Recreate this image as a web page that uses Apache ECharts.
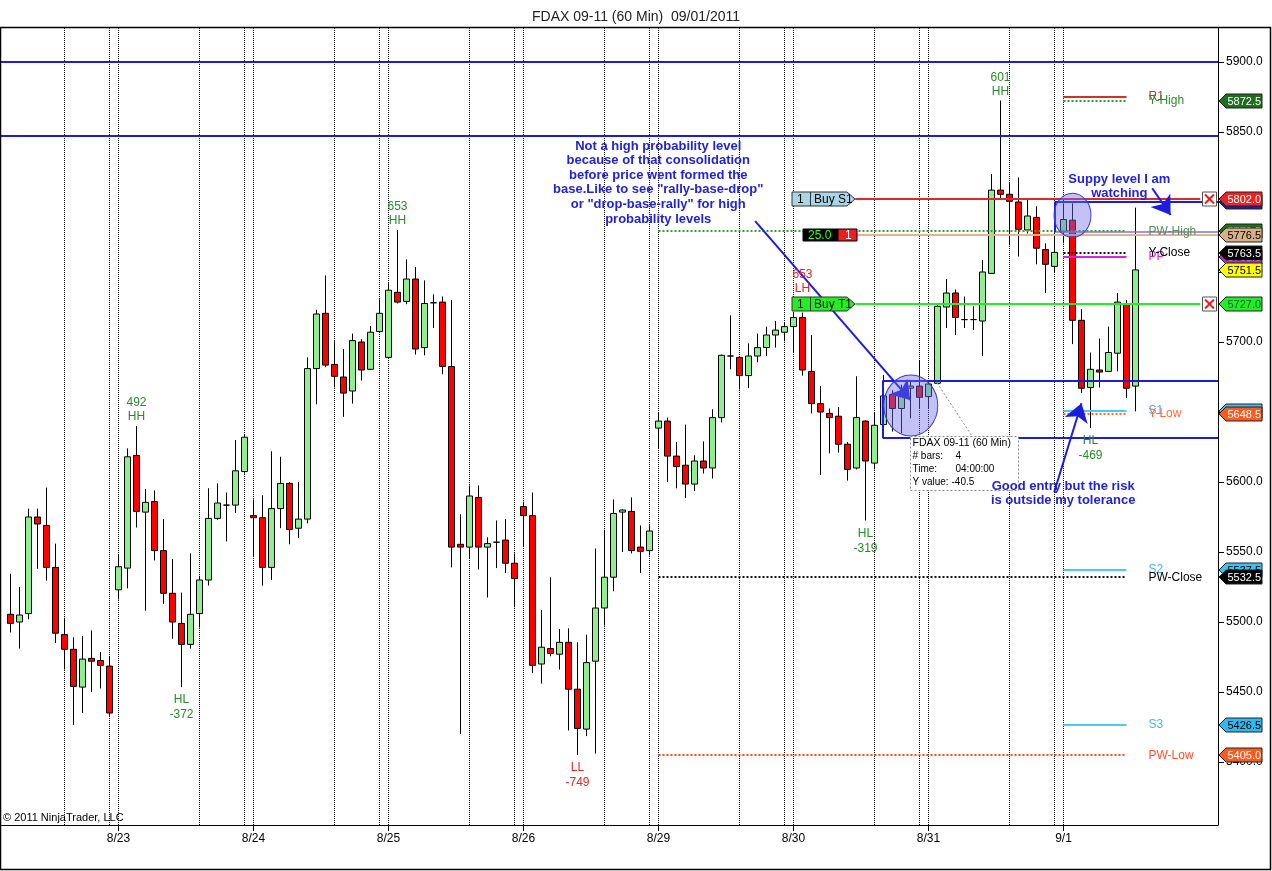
<!DOCTYPE html>
<html><head><meta charset="utf-8">
<script src="https://cdn.jsdelivr.net/npm/echarts@6/dist/echarts.min.js"></script>
<style>html,body{margin:0;padding:0;background:#fff}#c{width:1272px;height:871px}</style>
</head><body><div id="c"></div>
<script>
// ---------------- DATA ----------------
const chartTitle = 'FDAX 09-11 (60 Min)  09/01/2011';
const dayLabels = ['8/23','8/24','8/25','8/26','8/29','8/30','8/31','9/1'];
const dayStarts = [12,27,42,57,72,87,102,117];
const sessionLines = [6,11,12,21,26,27,36,41,42,51,56,57,66,71,72,81,86,87,96,101,102,111,116,117];
const yTicks = [5400,5450,5500,5550,5600,5650,5700,5750,5800,5850,5900];

const opens = [
5505.5,5500,5506,5575,5569,5539,5491,5480.5,5453.5,5474,
5472.5,5468.5,5523,5538.5,5619,5578.5,5586,5551,5520.5,5499,
5484,5506,5530,5574,5583.5,5583.5,5607.5,5576,5574.5,5539,
5581,5599,5567,5573.5,5681,5720.5,5684,5675,5665,5700,
5680.5,5707.5,5689,5735.5,5729,5745,5696,5728,5728.5,5682.5,
5555.5,5553.5,5589,5553.5,5557,5558.5,5542,5582.5,5576,5470,
5481,5477,5485.5,5452,5423.5,5472,5510,5532,5578.5,5579,
5553.5,5551,5638.5,5643.5,5618.5,5612,5598.5,5615,5610,5646,
5690,5689,5676,5690,5696,5705,5707,5711,5717.5,5679,
5656,5649,5647,5627,5610,5643.5,5613.5,5641,5662.5,5652.5,
5667,5668.5,5661,5670.5,5725,5735,5716,5716,5715,5749,
5808.5,5805.5,5800,5780,5789,5766,5754,5779,5787,5715.5,
5667.5,5680,5679,5692,5727.5,5668.5];
const closes = [
5499,5505,5575,5570,5539,5492,5480.5,5454,5473.5,5472,
5469,5435,5539.5,5618,5579,5585.5,5551,5520.5,5500,5484,
5505.5,5530,5574,5585,5583.5,5608,5632,5574.5,5539,5581,
5599,5566,5573.5,5681,5720,5683.5,5675.5,5663.5,5701,5680,
5707,5720.5,5737,5728.5,5745,5695,5727.5,5728,5682.5,5553.5,
5553.5,5590,5553.5,5556,5557,5542,5531,5576,5469,5482,
5477.5,5485.5,5452,5424,5471,5510,5532,5577.5,5580,5551,
5550.5,5565,5643.5,5618.5,5611,5598.5,5615,5610,5646,5690.5,
5690,5676,5690,5696,5705,5708.5,5711,5717.5,5680,5656,
5650,5646,5627,5609,5646,5615,5640.5,5661.5,5652.5,5662.5,
5668.5,5660.5,5670,5725.5,5735,5717.5,5716,5716,5750,5808.5,
5805.5,5800.5,5780.5,5790,5767,5755.5,5764,5787.5,5715.5,5667,
5680.5,5678.5,5692.5,5728.5,5667,5751.5];
const lows = [
5492.5,5481,5502,5538,5529.5,5485,5466,5426.5,5435,5450,
5452.5,5433,5516,5524,5567.5,5508,5544,5513,5488,5453.5,
5481,5496,5526,5573,5557.5,5578,5606,5547,5526,5530,
5567,5555.5,5560,5570.5,5655.5,5682,5667.5,5646.5,5656,5672.5,
5680,5707,5688.5,5727.5,5727,5691,5690.5,5710,5677,5539,
5420,5545,5537.5,5517.5,5538.5,5535,5510.5,5553.5,5463.5,5456,
5475.5,5466,5422.5,5405,5418.5,5406,5497.5,5522,5550,5549,
5535,5547.5,5623.5,5600,5595.5,5588.5,5593.5,5606,5602.5,5642.5,
5680.5,5666,5667,5685.5,5690,5696,5700.5,5692,5676,5649,
5605,5620.5,5621,5601,5609,5572.5,5609,5641,5636,5635,
5645.5,5652.5,5652.5,5670,5710,5705,5710,5708.5,5690,5749,
5802.5,5769,5761,5777.5,5755.5,5735,5750,5770.5,5698.5,5663.5,
5638.5,5667.5,5678.5,5679,5660,5650.5];
const highs = [
5534.5,5525,5581,5581,5596,5556,5503,5489,5490,5494,
5478.5,5475,5548,5624,5640,5595,5594,5573.5,5545,5521,
5549,5533,5595.5,5599,5592.5,5630,5634,5587.5,5590.5,5622,
5618,5600,5600,5689,5723,5747.5,5700.5,5695,5706,5702,
5711.5,5730.5,5742,5780,5759,5753.5,5744,5734,5732.5,5730,
5577,5597.5,5597.5,5560.5,5572.5,5573.5,5549,5586,5592.5,5508.5,
5532,5495,5495.5,5485.5,5491,5552.5,5566,5587.5,5580.5,5589,
5569,5569,5650,5646,5628.5,5641,5619,5629,5652,5691,
5719,5689.5,5699,5706,5711,5715,5713.5,5721,5721,5705,
5668.5,5652.5,5653.5,5628.5,5675.5,5644,5650,5676.5,5665.5,5669.5,
5673,5686.5,5672,5726.5,5745,5737.5,5732.5,5725.5,5758.5,5820,
5872.5,5813.5,5817.5,5802,5797,5770.5,5785,5799,5799,5723.5,
5692.5,5702.5,5711,5735,5730,5796];

// horizontal levels
const blueLevels = [5900, 5847];
const weeklyNames = ['PW-High','PW-Close','PW-Low'];
const weeklyValues = [5779.5, 5532.5, 5405];
const weeklyRange = [72, 124];
const dailyNames = ['R1','Y-High','PP','Y-Close','S1','Y-Low','S2','S3'];
const dailyValues = [5875, 5872.5, 5761, 5763.5, 5651, 5648.5, 5537.5, 5426.5];
const dailyRange = [117, 124];
const orderNames = ['Buy S1','Buy T1'];
const orderValues = [5802, 5727];
const orderRange = [93.86, 132.2];
const positionValue = 5776.5;
const positionStart = 94;
const positionPnl = '25.0';
const positionQty = '1';
const demandZone = [5672.5, 5631.5]; const demandStart = 96.9;
const supplyZone = [5800, 5778.5];   const supplyStart = 116;

// swing labels
const swingBars  = [14, 43, 110, 88, 19, 63, 95, 120];
const swingTop   = ['492','653','601','653','HL','LL','HL','HL'];
const swingBot   = ['HH','HH','HH','LH','-372','-749','-319','-469'];
const swingSide  = ['high','high','high','high','low','low','low','low'];

// ---------------- CHART ----------------
const FONT = '"Liberation Sans", Arial, Helvetica, sans-serif';
const BLUE = '#1c1ce0';
const X_MIN = -1.0556, X_MAX = X_MIN + 1217/9;
const Y_MAX = 5924.29, Y_MIN = Y_MAX - 797/1.4;

const bars = opens.map((o,i)=>[i, o, closes[i], lows[i], highs[i]]);

const lvl = [];
function hl(v,x1,x2,color,width,type){ lvl.push([{coord:[x1,v],lineStyle:{color:color,width:width,type:type}},{coord:[x2,v]}]); }
function vl(x,v1,v2,color,width,type){ lvl.push([{coord:[x,v1],lineStyle:{color:color,width:width,type:type}},{coord:[x,v2]}]); }

blueLevels.forEach(v=>hl(v, X_MIN, X_MAX, BLUE, 2, 'solid'));
const weeklyColors = ['#3a9a3a','#111','#ff4a1a'];
weeklyValues.forEach((v,i)=>hl(v, weeklyRange[0], weeklyRange[1], weeklyColors[i], 2, [2,2]));
const dailyStyles = [['#d83020','solid'],['#2e9a2e',[2,2]],['#e020e0','solid'],['#111',[2,2]],['#4ccaf5','solid'],['#ff6a3a',[2,2]],['#4ccaf5','solid'],['#4ccaf5','solid']];
dailyValues.forEach((v,i)=>hl(v, dailyRange[0], dailyRange[1], dailyStyles[i][0], 2, dailyStyles[i][1]));
hl(positionValue, positionStart, X_MAX, '#e2b68c', 2, 'solid');
hl(orderValues[0], orderRange[0], orderRange[1], '#e02828', 2, 'solid');
hl(orderValues[1], orderRange[0], orderRange[1], '#22ee22', 2, 'solid');
hl(demandZone[0], demandStart, X_MAX, BLUE, 2, 'solid');
hl(demandZone[1], demandStart, X_MAX, BLUE, 2, 'solid');
vl(demandStart, demandZone[0], demandZone[1], BLUE, 2, 'solid');
hl(supplyZone[0], supplyStart, X_MAX, BLUE, 2, 'solid');
hl(supplyZone[1], supplyStart, X_MAX, '#7c74d8', 1.5, 'solid');
vl(supplyStart, supplyZone[0], supplyZone[1], BLUE, 2, 'solid');
// measuring tool line
lvl.push([{coord:[102.97,5670.7],lineStyle:{color:'#888',width:1,type:[2,2]}},{coord:[106.97,5631.4]}]);

const arrows = [
  [{coord:[82.74,5786.4]},{coord:[99.97,5658.6]}],
  [{coord:[126.86,5809.8]},{coord:[128.9,5790.7]}],
  [{coord:[115.97,5592.9]},{coord:[119.0,5656.2]}]
];

const chart = echarts.init(document.getElementById('c'));
const option = {
  animation:false,
  backgroundColor:'#fff',
  title:{text:chartTitle,left:'center',top:5,textStyle:{fontFamily:FONT,fontSize:14,fontWeight:'normal',color:'#222'}},
  grid:{left:1,top:28,width:1217,height:797,containLabel:false},
  xAxis:{type:'value',min:X_MIN,max:X_MAX,splitLine:{show:false},
    axisLine:{show:true,onZero:false,lineStyle:{color:'#000',width:1}},
    axisTick:{show:true,length:6,customValues:dayStarts,lineStyle:{color:'#000'}},
    axisLabel:{customValues:dayStarts,margin:8,color:'#000',fontSize:12,fontFamily:FONT,
      formatter:v=>{const i=dayStarts.indexOf(Math.round(v));return i>=0?dayLabels[i]:'';}}},
  yAxis:{type:'value',position:'right',min:Y_MIN,max:Y_MAX,scale:true,splitLine:{show:false},
    axisLine:{show:true,onZero:false,lineStyle:{color:'#000',width:1}},
    axisTick:{show:true,length:6,customValues:yTicks,lineStyle:{color:'#000'}},
    axisLabel:{customValues:yTicks,margin:8,color:'#000',fontSize:12,fontFamily:FONT,formatter:v=>v.toFixed(1)}},
  series:[
    {type:'line',data:[],silent:true,z:1,
     markLine:{silent:true,symbol:['none','none'],label:{show:false},animation:false,z:1,
       lineStyle:{color:'#000',width:1,type:[1,1]},
       data:sessionLines.map(k=>({xAxis:k}))}},
    {type:'candlestick',data:bars,barWidth:7,silent:true,z:2,
     itemStyle:{color:'#90EE90',color0:'#FF0000',borderColor:'#000',borderColor0:'#000',borderColorDoji:'#000',borderWidth:1}},
    {type:'line',data:[],silent:true,z:5,
     markLine:{silent:true,symbol:['none','none'],label:{show:false},animation:false,data:lvl}},
    {type:'line',data:[],silent:true,z:6,
     markLine:{silent:true,symbol:['none','arrow'],symbolSize:18,label:{show:false},animation:false,
       lineStyle:{color:BLUE,width:2,type:'solid'},itemStyle:{color:BLUE},data:arrows},
     markPoint:{silent:true,symbol:'circle',label:{show:false},animation:false,
       itemStyle:{color:'rgba(110,110,235,0.42)',borderColor:'#3c3cc8',borderWidth:1},
       data:[{coord:[100.03,5654.6],symbolSize:[54,61]},{coord:[118.0,5790.5],symbolSize:[37,44]}]}}
  ]
};
chart.setOption(option);

// ---------------- OVERLAY GRAPHICS ----------------
function P(x,y){return chart.convertToPixel({gridIndex:0},[x,y]);}
const g = [];
let zc = 110;
function T(x,y,t,o,z){
  const st = Object.assign({x:x,y:y,text:t,font:'12px '+FONT,fill:'#000',textAlign:'left',textVerticalAlign:'middle',align:'left',verticalAlign:'middle'}, o||{});
  if (o && o.textAlign) st.align = o.textAlign;
  g.push({type:'text',z:(z==null?200:z),silent:true,style:st});
}
const axisX = P(X_MAX, Y_MIN)[0];
const plotBottom = P(X_MIN, Y_MIN)[1];

// right axis tags
function rightTag(v,bg,fg){
  const y = Math.round(P(0,v)[1]);
  zc += 2;
  g.push({type:'polygon',z:zc,silent:true,shape:{points:[[axisX+1,y],[axisX+8,y-7],[axisX+44,y-7],[axisX+44,y+7],[axisX+8,y+7]]},style:{fill:bg,stroke:'#222',lineWidth:1}});
  T(axisX+9.5,y+0.5,v.toFixed(1),{fill:fg,font:'11px '+FONT},zc+1);
}
rightTag(supplyZone[0],'#1c1cb0','#fff');
rightTag(weeklyValues[0],'#1d6e1d','#fff');
rightTag(dailyValues[2],'#d020d0','#fff');
rightTag(dailyValues[4],'#40c0f0','#000');
rightTag(dailyValues[6],'#40c0f0','#000');
rightTag(dailyValues[1],'#1d6e1d','#fff');
rightTag(orderValues[0],'#ee2222','#fff');
rightTag(positionValue,'#d8b088','#000');
rightTag(dailyValues[3],'#000','#fff');
rightTag(closes[closes.length-1],'#ffff00','#000');
rightTag(orderValues[1],'#22ee22','#063');
rightTag(dailyValues[5],'#ff5a1e','#fff');
rightTag(weeklyValues[1],'#000','#fff');
rightTag(dailyValues[7],'#30b8f0','#000');
rightTag(weeklyValues[2],'#ff5a1e','#fff');

// level labels
const labX = P(dailyRange[1],0)[0] + 22;
const dailyLabelColors = ['#a0402a','#2e8b2e','#d020d0','#000','#40b8e8','#ff6a3a','#40b8e8','#40b8e8'];
dailyNames.forEach((n,i)=>T(labX, P(0,dailyValues[i])[1], n, {fill:dailyLabelColors[i]}));
const weeklyLabelColors = ['#5a8a5a','#000','#ff5030'];
weeklyNames.forEach((n,i)=>T(labX, P(0,weeklyValues[i])[1]+1, n, {fill:weeklyLabelColors[i]}));

// order tags + X boxes
orderNames.forEach((n,i)=>{
  const p = P(orderRange[0], orderValues[i]); const x1 = Math.round(p[0]), y = Math.round(p[1]);
  const fill = i===0 ? '#a9d6e6' : '#22ee22';
  g.push({type:'polygon',z:110,silent:true,shape:{points:[[x1-63,y-7],[x1-8,y-7],[x1,y],[x1-8,y+7],[x1-63,y+7]]},style:{fill:fill,stroke:'#333',lineWidth:1}});
  g.push({type:'line',z:111,silent:true,shape:{x1:x1-44.5,y1:y-7,x2:x1-44.5,y2:y+7},style:{stroke:'#333',lineWidth:1}});
  T(x1-58,y+0.5,'1',{fill:'#000'});
  T(x1-41,y+0.5,n,{fill:'#000'});
  const e = P(orderRange[1], orderValues[i]); const cx = Math.round(e[0])+9.5;
  g.push({type:'rect',z:110,silent:true,shape:{x:cx-7,y:y-7,width:14,height:14},style:{fill:'#fff',stroke:'#555',lineWidth:1}});
  g.push({type:'line',z:111,silent:true,shape:{x1:cx-4.5,y1:y-4.5,x2:cx+4.5,y2:y+4.5},style:{stroke:'#e81c1c',lineWidth:2}});
  g.push({type:'line',z:111,silent:true,shape:{x1:cx+4.5,y1:y-4.5,x2:cx-4.5,y2:y+4.5},style:{stroke:'#e81c1c',lineWidth:2}});
});
// position box
(function(){
  const p = P(positionStart, positionValue); const x1 = Math.round(p[0]), y = Math.round(p[1]);
  g.push({type:'rect',z:110,silent:true,shape:{x:x1-54,y:y-6,width:35,height:12},style:{fill:'#000',stroke:'#000',lineWidth:1}});
  g.push({type:'rect',z:110,silent:true,shape:{x:x1-19,y:y-6,width:19,height:12},style:{fill:'#ee1c1c',stroke:'#000',lineWidth:1}});
  T(x1-49,y+0.5,positionPnl,{fill:'#33ff33'});
  T(x1-12,y+0.5,positionQty,{fill:'#fff'});
})();

// swing labels
swingBars.forEach((k,i)=>{
  const col = (swingTop[i]==='LL'||swingBot[i]==='LH') ? '#e02828' : '#2a8a2a';
  const x = P(k,0)[0];
  if (swingSide[i]==='high'){
    const y = P(k,highs[k])[1];
    const off = swingBot[i]==='LH' ? 15 : 0;
    T(x,y-23-off,swingTop[i],{fill:col,textAlign:'center'});
    T(x,y-9-off,swingBot[i],{fill:col,textAlign:'center'},105);
  } else {
    const y = P(k,lows[k])[1];
    T(x,y+13,swingTop[i],{fill:col,textAlign:'center'});
    T(x,y+28,swingBot[i],{fill:col,textAlign:'center'});
  }
});

// blue commentary
function block(anchor, lines){
  const p = P(anchor[0], anchor[1]);
  lines.forEach((l,i)=>T(p[0], p[1]+i*14.6, l, {fill:'#2222d8',font:'bold 13px '+FONT,textAlign:'center'}));
}
block([71.97,5840],['Not a high probability level','because of that consolidation','before price went formed the','base.Like to see "rally-base-drop"','or "drop-base-rally" for high','probability levels']);
block([123.2,5816.4],['Suppy level I am','watching']);
block([116.96,5597.1],['Good entry but the risk','is outside my tolerance']);

// measure box
(function(){
  const p = P(99.97,5632.9); const x = Math.round(p[0])+0.5, y = Math.round(p[1])+0.5;
  g.push({type:'rect',z:115,silent:true,shape:{x:x,y:y,width:108,height:54},style:{fill:'#fff',stroke:'#888',lineWidth:1,lineDash:[2,2]}});
  const f = '10px '+FONT;
  T(x+2,y+7,'FDAX 09-11 (60 Min)',{font:'10.5px '+FONT});
  T(x+2,y+20,'# bars:',{font:f}); T(x+45,y+20,'4',{font:f});
  T(x+2,y+33,'Time:',{font:f}); T(x+45,y+33,'04:00:00',{font:f});
  T(x+2,y+46,'Y value:',{font:f}); T(x+41,y+46,'-40.5',{font:f});
})();

// copyright + frame
T(3, plotBottom-7, '\u00A9 2011 NinjaTrader, LLC', {font:'11px '+FONT});
g.push({type:'rect',z:130,silent:true,shape:{x:0.5,y:27.5,width:1270,height:842},style:{fill:'none',stroke:'#000',lineWidth:1.5}});

chart.setOption({graphic:g});
</script>
</body></html>
